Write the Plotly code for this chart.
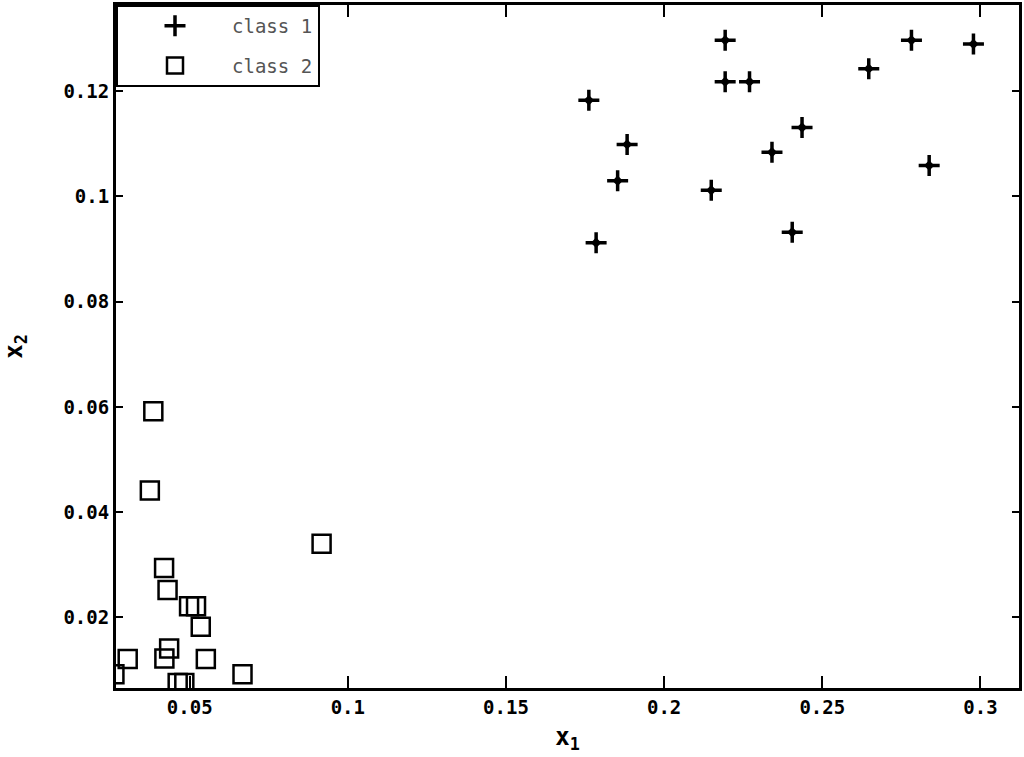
import plotly.graph_objects as go

# class 1 (plus markers)
class1_x = [0.2193, 0.2782, 0.2978, 0.2647, 0.2193, 0.2270, 0.1762, 0.2436,
            0.1883, 0.2341, 0.2838, 0.1853, 0.2149, 0.2405, 0.1785]
class1_y = [0.1297, 0.1297, 0.1290, 0.1243, 0.1218, 0.1218, 0.1183, 0.1131,
            0.1099, 0.1084, 0.1059, 0.1030, 0.1012, 0.0932, 0.0912]

# class 2 (open squares)
class2_x = [0.0385, 0.0374, 0.0917, 0.0419, 0.0430, 0.0498, 0.0520, 0.0535,
            0.0435, 0.0420, 0.0304, 0.0551, 0.0262, 0.0667, 0.0462, 0.0483]
class2_y = [0.0592, 0.0441, 0.0340, 0.0294, 0.0252, 0.0221, 0.0221, 0.0182,
            0.0141, 0.0122, 0.0121, 0.0121, 0.0092, 0.0092, 0.0075, 0.0075]

x_ticks = [0.05, 0.1, 0.15, 0.2, 0.25, 0.3]
x_labels = ["0.05", "0.1", "0.15", "0.2", "0.25", "0.3"]
y_ticks = [0.02, 0.04, 0.06, 0.08, 0.1, 0.12]
y_labels = ["0.02", "0.04", "0.06", "0.08", "0.1", "0.12"]

fig = go.Figure()

fig.add_trace(go.Scatter(
    x=class1_x, y=class1_y, mode="markers", name="class 1",
    legendgroup="c1",
    marker=dict(symbol="cross-thin", size=15, color="black",
                line=dict(color="black", width=3.5)),
))
# small filled centre so the plus looks bold like the original
fig.add_trace(go.Scatter(
    x=class1_x, y=class1_y, mode="markers", showlegend=False,
    legendgroup="c1", hoverinfo="skip",
    marker=dict(symbol="diamond", size=8, color="black"),
))
fig.add_trace(go.Scatter(
    x=class2_x, y=class2_y, mode="markers", name="class 2",
    legendgroup="c2",
    marker=dict(symbol="square-open", size=18, color="black",
                line=dict(color="black", width=2.5)),
))

tick_font = dict(family="DejaVu Sans Mono", size=19, color="black", weight="bold")
title_font = dict(family="DejaVu Sans Mono", size=24, color="black", weight="bold")

fig.update_xaxes(
    range=[0.0267, 0.3122], tickvals=x_ticks, ticktext=x_labels,
    ticks="inside", ticklen=12, tickwidth=2, tickcolor="black",
    showline=True, linewidth=3, linecolor="black", mirror="ticks",
    showgrid=False, zeroline=False, tickfont=tick_font,
    title=dict(text="x<sub>1</sub>", font=title_font, standoff=12),
)
fig.update_yaxes(
    range=[0.00657, 0.1364], tickvals=y_ticks, ticktext=y_labels,
    ticks="inside", ticklen=7, tickwidth=2, tickcolor="black",
    showline=True, linewidth=3, linecolor="black", mirror="ticks",
    showgrid=False, zeroline=False, tickfont=tick_font,
    title=dict(text="x<sub>2</sub>", font=title_font, standoff=40),
)

fig.update_layout(
    width=1024, height=757,
    margin=dict(l=116, r=3, t=2, b=69),
    paper_bgcolor="white", plot_bgcolor="white",
    showlegend=True,
    legend=dict(
        x=0, y=1, xanchor="left", yanchor="top",
        bgcolor="white", bordercolor="black", borderwidth=2,
        font=dict(family="DejaVu Sans Mono", size=19, color="#555"),
        itemwidth=104, tracegroupgap=12, entrywidth=205,
    ),
)

fig.write_html("out.html", config={"displayModeBar": False},
               post_script="document.body.style.margin='0';")
